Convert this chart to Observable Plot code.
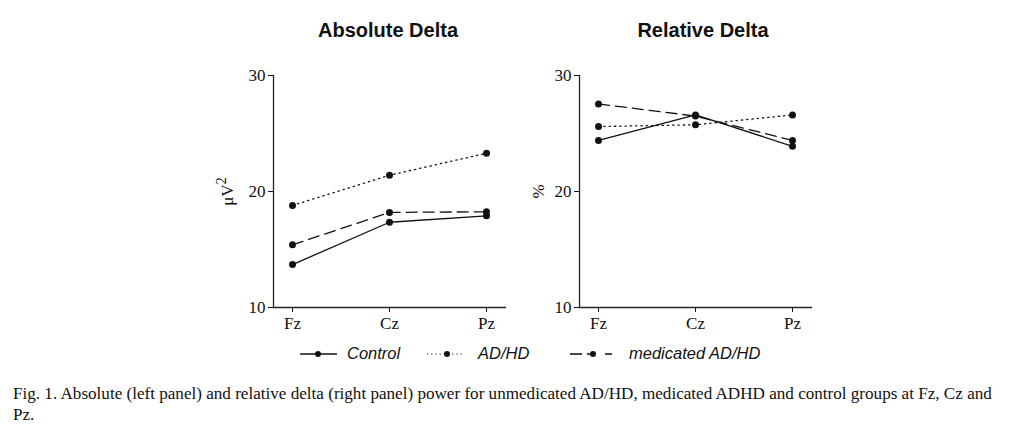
<!DOCTYPE html>
<html><head><meta charset="utf-8">
<script src="https://cdn.jsdelivr.net/npm/d3@7"></script>
<script src="https://cdn.jsdelivr.net/npm/@observablehq/plot@0.6"></script>
<style>
body{margin:0;background:#fff;width:1027px;height:438px;position:relative;overflow:hidden;}
.title{position:absolute;top:19px;width:260px;text-align:center;font-family:"Liberation Sans",Arial,sans-serif;font-weight:bold;font-size:20px;color:#111;}
.panel{position:absolute;top:60px;}
.legend{position:absolute;top:344px;font-family:"Liberation Sans",Arial,sans-serif;font-style:italic;font-size:16.5px;color:#111;}
.legend span{position:absolute;white-space:nowrap;}
.legend svg{position:absolute;top:3px;}
.caption{position:absolute;left:13px;top:383px;width:985px;font-family:"Liberation Serif","Times New Roman",serif;font-size:17.1px;line-height:21px;color:#111;}
</style></head>
<body>
<div class="title" style="left:258px">Absolute Delta</div>
<div class="title" style="left:573px">Relative Delta</div>
<div id="left" class="panel" style="left:200px"></div>
<div id="right" class="panel" style="left:506px"></div>
<div class="legend">
  <svg style="left:300px" width="40" height="14"><line x1="0" y1="7" x2="37" y2="7" stroke="#111" stroke-width="1.3"/><circle cx="18" cy="7" r="3" fill="#111"/></svg>
  <span style="left:347px">Control</span>
  <svg style="left:427px" width="40" height="14"><line x1="0" y1="7" x2="36" y2="7" stroke="#111" stroke-width="1.2" stroke-dasharray="1.2,3"/><circle cx="20" cy="7" r="3" fill="#111"/></svg>
  <span style="left:478px">AD/HD</span>
  <svg style="left:570px" width="44" height="14"><line x1="0" y1="7" x2="42" y2="7" stroke="#111" stroke-width="1.3" stroke-dasharray="12,5,4,14,12"/><circle cx="23" cy="7" r="3" fill="#111"/></svg>
  <span style="left:629px">medicated AD/HD</span>
</div>
<div class="caption">Fig. 1. Absolute (left panel) and relative delta (right panel) power for unmedicated AD/HD, medicated ADHD and control groups at Fz, Cz and Pz.</div>
<script>
const sites = ["Fz", "Cz", "Pz"];
const groups = ["Control", "AD/HD", "medicated AD/HD"];
const absControl = [13.7, 17.35, 17.9];
const absADHD = [18.8, 21.4, 23.3];
const absMedicated = [15.4, 18.2, 18.25];
const relControl = [24.4, 26.6, 23.9];
const relADHD = [25.6, 25.75, 26.6];
const relMedicated = [27.55, 26.5, 24.4];
const yTicks = [10, 20, 30];

const dashes = {"Control": null, "AD/HD": "1.3,4", "medicated AD/HD": "11,6"};

function table(series) {
  const rows = [];
  groups.forEach((g, gi) => sites.forEach((s, i) => rows.push({group: g, site: s, value: series[gi][i]})));
  return rows;
}

function panel(series, label, labelOffset) {
  const data = table(series);
  const marks = [
    Plot.frame({anchor: "left", stroke: "#222", strokeWidth: 1.3}),
    Plot.frame({anchor: "bottom", stroke: "#222", strokeWidth: 1.3}),
    Plot.axisX({tickSize: 5, tickPadding: 4, label: null}),
    Plot.axisY({ticks: yTicks, tickSize: 5, tickPadding: 3, label, labelArrow: "none", labelAnchor: "center", labelOffset})
  ];
  for (const g of groups) {
    const opts = {x: "site", y: "value", filter: d => d.group === g, stroke: "#111", strokeWidth: 1.3};
    if (dashes[g]) opts.strokeDasharray = dashes[g];
    marks.push(Plot.line(data, opts));
  }
  marks.push(Plot.dot(data, {x: "site", y: "value", r: 3.5, fill: "#111"}));
  return Plot.plot({
    width: 320, height: 280,
    marginLeft: 73, marginRight: 15, marginTop: 15, marginBottom: 33,
    style: {fontFamily: "'Liberation Serif','Times New Roman',serif", fontSize: "17px", color: "#111", background: "white", overflow: "visible"},
    x: {type: "point", domain: sites, padding: 0.19},
    y: {domain: [10, 30]},
    marks
  });
}

const leftPlot = panel([absControl, absADHD, absMedicated], "μV2", 53);
// render the "2" of μV2 as a superscript
d3.select(leftPlot).selectAll("text").filter(function() { return this.textContent === "μV2"; })
  .each(function() {
    const t = d3.select(this);
    t.text("μV");
    t.append("tspan").attr("dy", "-0.45em").attr("font-size", "0.85em").text("2");
  });
document.getElementById("left").append(leftPlot);
document.getElementById("right").append(panel([relControl, relADHD, relMedicated], "%", 48));
</script>
</body></html>
